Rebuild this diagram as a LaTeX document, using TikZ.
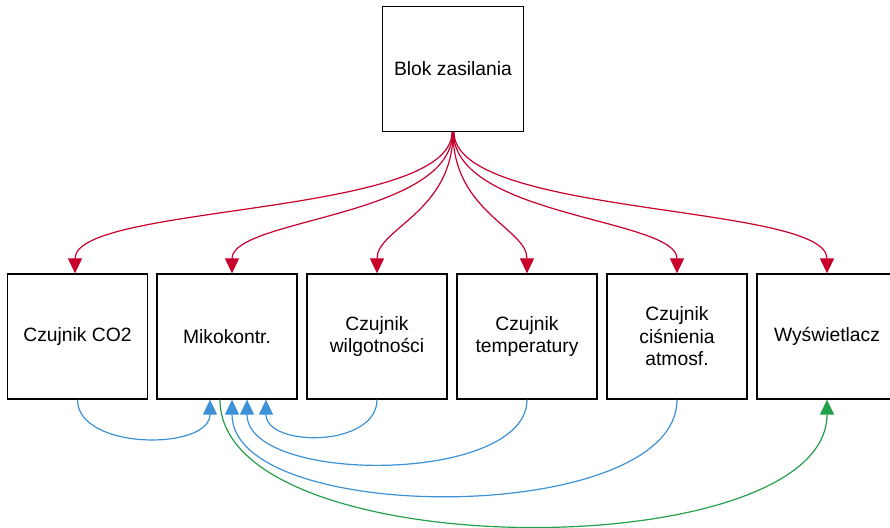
\documentclass[tikz,border=0pt]{standalone}
\usepackage{fontspec}
\setmainfont{Liberation Sans}
\usetikzlibrary{arrows.meta}
\definecolor{pwr}{RGB}{200,0,45}
\definecolor{sig}{RGB}{60,145,215}
\definecolor{disp}{RGB}{35,160,75}
\tikzset{
  blk/.style={draw=black, line width=1.3pt, minimum width=140pt, minimum height=125pt,
    inner sep=0pt, align=center, font=\fontsize{19.3}{22.5}\selectfont, fill=white},
  tip/.style={-{Triangle[length=15pt,width=14pt]}},
  pline/.style={tip, draw=pwr, line width=1.2pt},
  sline/.style={tip, draw=sig, line width=1.2pt},
  dline/.style={tip, draw=disp, line width=1.2pt},
}
\begin{document}
\begin{tikzpicture}[x=1pt,y=-1pt]
\clip (0,0) rectangle (890,527);
\node[blk, minimum width=141pt] (blok) at (453,69) {Blok zasilania};
\node[blk] (co2) at (77.5,336.5) {Czujnik CO2};
\node[blk] (mcu) at (227,336.5) {Mikokontr.};
\node[blk] (wil) at (377,336.5) {Czujnik\\wilgotności};
\node[blk] (tem) at (527,336.5) {Czujnik\\temperatury};
\node[blk] (cis) at (677,336.5) {Czujnik\\ciśnienia\\atmosf.};
\node[blk] (wys) at (827,336.5) {Wyświetlacz};
% power
\draw[pline] ([xshift=-1pt]blok.south) .. controls +(0,85) and +(0,-70) .. ([xshift=-2.5pt]co2.north);
\draw[pline] ([xshift=-0.5pt]blok.south) .. controls +(0,85) and +(0,-55) .. ([xshift=5pt]mcu.north);
\draw[pline] (blok.south) .. controls +(0,80) and +(0,-45) .. (wil.north);
\draw[pline] (blok.south) .. controls +(0,80) and +(0,-45) .. (tem.north);
\draw[pline] ([xshift=0.5pt]blok.south) .. controls +(0,85) and +(0,-55) .. (cis.north);
\draw[pline] ([xshift=1pt]blok.south) .. controls +(0,85) and +(0,-70) .. (wys.north);
% signals
\draw[sline] (co2.south) .. controls +(0,51) and +(0,51) .. ([xshift=-17pt]mcu.south);
\draw[sline] (wil.south) .. controls +(0,48) and +(0,48) .. ([xshift=39pt]mcu.south);
\draw[sline] (tem.south) .. controls +(0,85) and +(0,85) .. ([xshift=20pt]mcu.south);
\draw[sline] (cis.south) .. controls +(0,127) and +(0,127) .. ([xshift=5pt]mcu.south);
\draw[dline] ([xshift=-7pt]mcu.south) .. controls +(0,168) and +(0,168) .. (wys.south);
\end{tikzpicture}
\end{document}
